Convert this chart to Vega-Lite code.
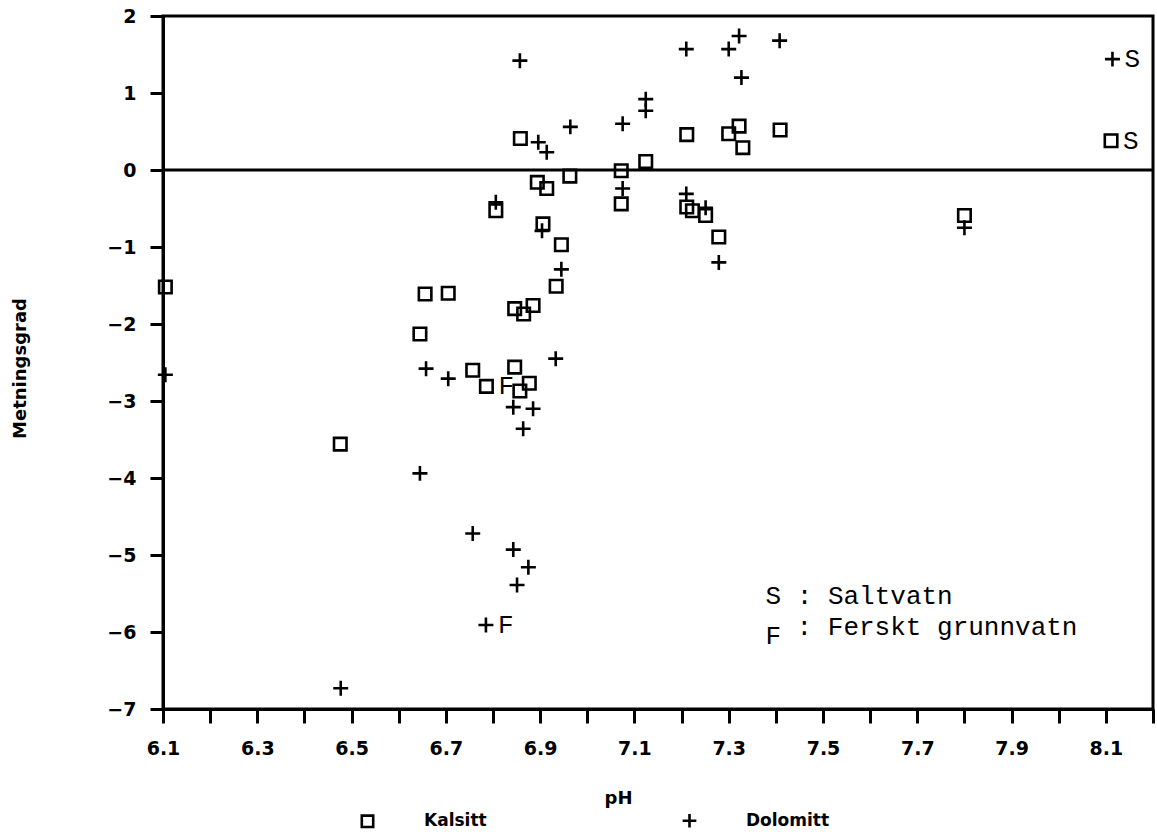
{
  "$schema": "https://vega.github.io/schema/vega-lite/v6.json",
  "autosize": {"type": "none"},
  "padding": {"left": 163, "top": 16, "right": 4, "bottom": 123},
  "width": 990,
  "height": 693,
  "background": "white",
  "config": {
    "view": {"stroke": "black", "strokeWidth": 3},
    "axis": {
      "grid": false, "domainColor": "black", "domainWidth": 3, "tickColor": "black", "tickWidth": 3,
      "labelColor": "black", "labelFont": "DejaVu Sans", "labelFontWeight": "bold", "labelFontSize": 19,
      "titleFont": "DejaVu Sans", "titleFontWeight": "bold", "titleFontSize": 18, "titleColor": "black"
    }
  },
  "data": {"values": [
    {"pH": 6.105, "mineral": "Kalsitt", "SI": -1.52},
    {"pH": 6.476, "mineral": "Kalsitt", "SI": -3.56},
    {"pH": 6.645, "mineral": "Kalsitt", "SI": -2.13},
    {"pH": 6.656, "mineral": "Kalsitt", "SI": -1.61},
    {"pH": 6.705, "mineral": "Kalsitt", "SI": -1.60},
    {"pH": 6.757, "mineral": "Kalsitt", "SI": -2.60},
    {"pH": 6.786, "mineral": "Kalsitt", "SI": -2.81, "note": "F"},
    {"pH": 6.806, "mineral": "Kalsitt", "SI": -0.53},
    {"pH": 6.846, "mineral": "Kalsitt", "SI": -1.80},
    {"pH": 6.846, "mineral": "Kalsitt", "SI": -2.56},
    {"pH": 6.858, "mineral": "Kalsitt", "SI": 0.41},
    {"pH": 6.857, "mineral": "Kalsitt", "SI": -2.87},
    {"pH": 6.865, "mineral": "Kalsitt", "SI": -1.87},
    {"pH": 6.877, "mineral": "Kalsitt", "SI": -2.77},
    {"pH": 6.885, "mineral": "Kalsitt", "SI": -1.76},
    {"pH": 6.894, "mineral": "Kalsitt", "SI": -0.16},
    {"pH": 6.906, "mineral": "Kalsitt", "SI": -0.70},
    {"pH": 6.914, "mineral": "Kalsitt", "SI": -0.24},
    {"pH": 6.934, "mineral": "Kalsitt", "SI": -1.51},
    {"pH": 6.945, "mineral": "Kalsitt", "SI": -0.97},
    {"pH": 6.963, "mineral": "Kalsitt", "SI": -0.08},
    {"pH": 7.072, "mineral": "Kalsitt", "SI": -0.01},
    {"pH": 7.072, "mineral": "Kalsitt", "SI": -0.44},
    {"pH": 7.124, "mineral": "Kalsitt", "SI": 0.11},
    {"pH": 7.211, "mineral": "Kalsitt", "SI": 0.46},
    {"pH": 7.211, "mineral": "Kalsitt", "SI": -0.48},
    {"pH": 7.223, "mineral": "Kalsitt", "SI": -0.53},
    {"pH": 7.251, "mineral": "Kalsitt", "SI": -0.59},
    {"pH": 7.279, "mineral": "Kalsitt", "SI": -0.87},
    {"pH": 7.300, "mineral": "Kalsitt", "SI": 0.47},
    {"pH": 7.322, "mineral": "Kalsitt", "SI": 0.57},
    {"pH": 7.330, "mineral": "Kalsitt", "SI": 0.29},
    {"pH": 7.409, "mineral": "Kalsitt", "SI": 0.52},
    {"pH": 7.800, "mineral": "Kalsitt", "SI": -0.59},
    {"pH": 8.111, "mineral": "Kalsitt", "SI": 0.38, "note": "S"},
    {"pH": 6.105, "mineral": "Dolomitt", "SI": -2.66},
    {"pH": 6.477, "mineral": "Dolomitt", "SI": -6.73},
    {"pH": 6.645, "mineral": "Dolomitt", "SI": -3.94},
    {"pH": 6.658, "mineral": "Dolomitt", "SI": -2.58},
    {"pH": 6.705, "mineral": "Dolomitt", "SI": -2.71},
    {"pH": 6.757, "mineral": "Dolomitt", "SI": -4.72},
    {"pH": 6.785, "mineral": "Dolomitt", "SI": -5.91, "note": "F"},
    {"pH": 6.806, "mineral": "Dolomitt", "SI": -0.42},
    {"pH": 6.843, "mineral": "Dolomitt", "SI": -3.08},
    {"pH": 6.843, "mineral": "Dolomitt", "SI": -4.93},
    {"pH": 6.851, "mineral": "Dolomitt", "SI": -5.39},
    {"pH": 6.857, "mineral": "Dolomitt", "SI": 1.42},
    {"pH": 6.864, "mineral": "Dolomitt", "SI": -3.36},
    {"pH": 6.875, "mineral": "Dolomitt", "SI": -5.16},
    {"pH": 6.885, "mineral": "Dolomitt", "SI": -3.10},
    {"pH": 6.896, "mineral": "Dolomitt", "SI": 0.36},
    {"pH": 6.904, "mineral": "Dolomitt", "SI": -0.79},
    {"pH": 6.914, "mineral": "Dolomitt", "SI": 0.23},
    {"pH": 6.933, "mineral": "Dolomitt", "SI": -2.45},
    {"pH": 6.945, "mineral": "Dolomitt", "SI": -1.29},
    {"pH": 6.964, "mineral": "Dolomitt", "SI": 0.56},
    {"pH": 7.075, "mineral": "Dolomitt", "SI": 0.60},
    {"pH": 7.075, "mineral": "Dolomitt", "SI": -0.24},
    {"pH": 7.124, "mineral": "Dolomitt", "SI": 0.92},
    {"pH": 7.124, "mineral": "Dolomitt", "SI": 0.77},
    {"pH": 7.210, "mineral": "Dolomitt", "SI": 1.57},
    {"pH": 7.210, "mineral": "Dolomitt", "SI": -0.31},
    {"pH": 7.251, "mineral": "Dolomitt", "SI": -0.49},
    {"pH": 7.279, "mineral": "Dolomitt", "SI": -1.20},
    {"pH": 7.300, "mineral": "Dolomitt", "SI": 1.57},
    {"pH": 7.322, "mineral": "Dolomitt", "SI": 1.74},
    {"pH": 7.327, "mineral": "Dolomitt", "SI": 1.20},
    {"pH": 7.408, "mineral": "Dolomitt", "SI": 1.68},
    {"pH": 7.800, "mineral": "Dolomitt", "SI": -0.75},
    {"pH": 8.114, "mineral": "Dolomitt", "SI": 1.44, "note": "S"}
  ]},
  "layer": [
    {
      "data": {"values": [{"SI": 0}]},
      "mark": {"type": "rule", "color": "black", "strokeWidth": 3},
      "encoding": {"y": {"field": "SI", "type": "quantitative"}}
    },
    {
      "mark": {"type": "point", "filled": false, "strokeWidth": 2.6, "color": "black", "opacity": 1, "size": 156},
      "encoding": {
        "x": {
          "field": "pH", "type": "quantitative",
          "scale": {"domain": [6.1, 8.2], "nice": false, "zero": false},
          "axis": {
            "values": [6.1, 6.2, 6.3, 6.4, 6.5, 6.6, 6.7, 6.8, 6.9, 7.0, 7.1, 7.2, 7.3, 7.4, 7.5, 7.6, 7.7, 7.8, 7.9, 8.0, 8.1, 8.2],
            "labelExpr": "round(datum.value*10) % 2 == 1 ? format(datum.value, '.1f') : ''",
            "labelFontSize": 19,
            "tickSize": 14, "labelPadding": 16, "labelFlush": false, "labelOverlap": false,
            "title": "pH", "titleX": 455, "titleY": 94, "titleBaseline": "alphabetic", "titleAlign": "center"
          }
        },
        "y": {
          "field": "SI", "type": "quantitative",
          "scale": {"domain": [-7, 2], "nice": false, "zero": false},
          "axis": {
            "values": [-7, -6, -5, -4, -3, -2, -1, 0, 1, 2], "format": "d",
            "labelFontSize": 19,
            "tickSize": 13, "labelPadding": 14, "labelFlush": false, "labelOverlap": false,
            "title": "Metningsgrad", "titleX": -143, "titleY": 352, "titleAngle": -90,
            "titleAlign": "center", "titleBaseline": "middle"
          }
        },
        "shape": {
          "field": "mineral", "type": "nominal",
          "scale": {"domain": ["Kalsitt", "Dolomitt"], "range": ["square", "M-1.2,0H1.2M0,-1.2V1.2"]},
          "legend": {
            "orient": "none", "legendX": 196, "legendY": 796, "direction": "horizontal", "columns": 2,
            "title": null, "labelFont": "DejaVu Sans", "labelFontWeight": "bold", "labelFontSize": 17,
            "labelColor": "black", "labelOffset": 48, "columnPadding": 190,
            "symbolStrokeColor": "black", "symbolStrokeWidth": 2.6, "symbolSize": 130, "symbolFillColor": "transparent"
          }
        }
      }
    },
    {
      "transform": [{"filter": "isValid(datum.note)"}],
      "mark": {"type": "text", "align": "left", "baseline": "middle", "dx": 12, "font": "Liberation Mono", "fontSize": 26, "color": "black"},
      "encoding": {
        "x": {"field": "pH", "type": "quantitative"},
        "y": {"field": "SI", "type": "quantitative"},
        "text": {"field": "note"}
      }
    },
    {
      "data": {"values": [
        {"pH": 7.378, "SI": -5.63, "text": "S : Saltvatn"},
        {"pH": 7.378, "SI": -6.16, "text": "F"},
        {"pH": 7.444, "SI": -6.04, "text": ": Ferskt grunnvatn"}
      ]},
      "mark": {"type": "text", "align": "left", "baseline": "alphabetic", "font": "Liberation Mono", "fontSize": 26, "color": "black"},
      "encoding": {
        "x": {"field": "pH", "type": "quantitative"},
        "y": {"field": "SI", "type": "quantitative"},
        "text": {"field": "text"}
      }
    }
  ]
}
